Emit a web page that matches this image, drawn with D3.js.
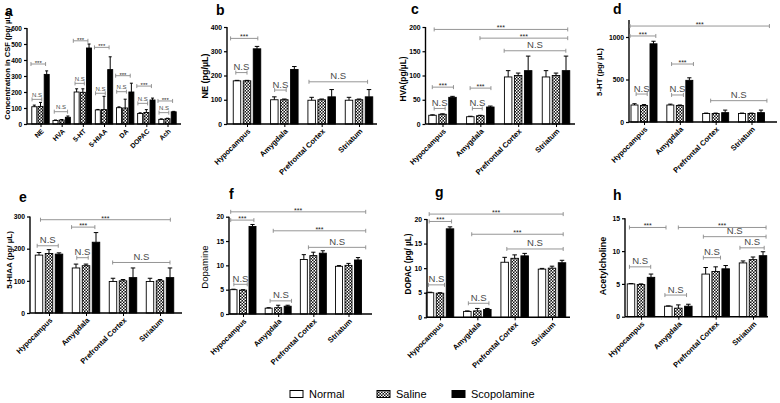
<!DOCTYPE html>
<html><head><meta charset="utf-8">
<script src="https://cdn.jsdelivr.net/npm/d3@7"></script>
<style>body{margin:0;background:#fff}svg{display:block;font-family:"Liberation Sans",Arial,sans-serif}</style>
</head><body><svg id="chart" width="780" height="403"></svg>
<script>
// ---------------- DATA ----------------
const seriesNames = ["Normal", "Saline", "Scopolamine"];
const csfCategories = ["NE", "HVA", "5-HT", "5-HIAA", "DA", "DOPAC", "Ach"];
const regions = ["Hypocampus", "Amygdala", "Prefrontal Cortex", "Striatum"];

// a: CSF
const csfNormal = [108, 22, 200, 88, 102, 66, 29];
const csfNormalErr = [10, 3, 20, 3, 5, 4, 3];
const csfSaline = [110, 25, 198, 90, 100, 72, 33];
const csfSalineErr = [25, 3, 22, 83, 55, 18, 3];
const csfScop = [310, 42, 475, 340, 200, 150, 76];
const csfScopErr = [22, 8, 25, 80, 55, 12, 3];
const csfTicks = [0, 100, 200, 300, 400, 500, 600];
const csfBrackets = [[-0.45,0.24,375,"***"],[-0.4,0.06,154,"N.S"],[0.65,1.28,77,"N.S"],
  [1.55,2.24,520,"***"],[1.63,2.07,254,"N.S"],[2.55,3.24,479,"***"],[2.6,3.06,192,"N.S"],
  [3.55,4.24,302,"***"],[3.6,4.06,202,"N.S"],[4.55,5.24,237,"***"],[4.6,5.06,129,"N.S"],
  [5.55,6.24,144,"***"],[5.6,6.06,71,"N.S"]];

// b: NE
const neNormal = [178, 100, 98, 98];   const neNormalErr = [2, 12, 12, 12];
const neSaline = [178, 100, 100, 100]; const neSalineErr = [2, 3, 3, 3];
const neScop = [310, 225, 112, 112];   const neScopErr = [10, 12, 30, 30];
const neTicks = [0, 100, 200, 300, 400];
const neBrackets = [[-0.44,0.29,353,"***"],[-0.3,0.0,212,"N.S"],[0.74,1.05,140,"N.S"],[1.66,3.23,174,"N.S"]];

// c: HVA
const hvaNormal = [18, 15, 97, 97];    const hvaNormalErr = [1, 1, 13, 13];
const hvaSaline = [20, 17, 100, 100];  const hvaSalineErr = [1, 1, 5, 5];
const hvaScop = [55, 35, 110, 110];    const hvaScopErr = [2, 2, 30, 30];
const hvaTicks = [0, 50, 100, 150, 200];
const hvaBrackets = [[-0.22,3.31,195,"***"],[0.99,3.31,177,"***"],[1.63,3.26,151,"N.S"],
  [-0.27,0.29,76,"***"],[-0.22,0.07,32,"N.S"],[0.73,1.28,74,"***"],[0.79,1.05,32,"N.S"]];

// d: 5-HT
const htNormal = [200, 200, 100, 100]; const htNormalErr = [15, 10, 5, 5];
const htSaline = [195, 195, 100, 100]; const htSalineErr = [10, 5, 5, 5];
const htScop = [920, 490, 110, 110];   const htScopErr = [30, 30, 30, 30];
const htTicks = [0, 500, 1000];
const htBrackets = [[-0.39,3.5,1129,"***"],[-0.39,0.33,1012,"***"],[0.77,1.38,682,"***"],
  [-0.22,0.09,329,"N.S"],[0.77,1.1,318,"N.S"],[1.86,3.43,251,"N.S"]];

// e: 5-HIAA
const hiaaNormal = [180, 140, 98, 98];   const hiaaNormalErr = [8, 12, 10, 10];
const hiaaSaline = [185, 147, 100, 100]; const hiaaSalineErr = [12, 5, 4, 4];
const hiaaScop = [183, 220, 110, 110];   const hiaaScopErr = [4, 30, 30, 30];
const hiaaTicks = [0, 100, 200, 300];
const hiaaBrackets = [[-0.23,3.28,290,"***"],[0.61,1.24,267,"***"],[-0.32,0.25,209,"N.S"],
  [0.75,1.06,172,"N.S"],[1.72,3.27,157,"N.S"]];

// f: Dopamine
const daNormal = [5.0, 1.2, 11.2, 9.8];  const daNormalErr = [0.1, 0.1, 1.0, 0.15];
const daSaline = [4.9, 1.3, 12.0, 10.0]; const daSalineErr = [0.1, 0.5, 0.7, 0.4];
const daScop = [18.0, 1.6, 12.5, 11.1];  const daScopErr = [0.4, 0.2, 0.5, 0.5];
const daTicks = [0, 5, 10, 15, 20];
const daBrackets = [[-0.35,3.49,21.0,"***"],[0.86,3.49,17.1,"***"],[-0.35,0.31,19.3,"***"],
  [1.86,3.49,13.7,"N.S"],[-0.26,0.12,6.1,"N.S"],[0.77,1.38,2.7,"N.S"]];

// g: DOPAC
const dopacNormal = [5.0, 1.2, 11.2, 9.8];  const dopacNormalErr = [0.1, 0.1, 1.0, 0.15];
const dopacSaline = [4.9, 1.3, 12.0, 10.0]; const dopacSalineErr = [0.1, 0.5, 0.7, 0.4];
const dopacScop = [18.0, 1.6, 12.5, 11.1];  const dopacScopErr = [0.4, 0.2, 0.5, 0.5];
const dopacTicks = [0, 5, 10, 15, 20];
const dopacBrackets = [[-0.29,3.3,21.0,"***"],[0.85,3.3,16.9,"***"],[-0.29,0.31,19.5,"***"],
  [1.79,3.3,13.9,"N.S"],[-0.31,0.12,6.6,"N.S"],[0.76,1.31,2.85,"N.S"]];

// h: Acetylcholine
const achNormal = [5.0, 1.6, 6.5, 8.2];  const achNormalErr = [0.05, 0.05, 1.0, 0.3];
const achSaline = [4.9, 1.3, 6.9, 8.7];  const achSalineErr = [0.1, 0.5, 0.7, 0.4];
const achScop = [6.0, 1.6, 7.3, 9.3];    const achScopErr = [0.5, 0.3, 0.5, 0.6];
const achTicks = [0, 5, 10, 15];
const achBrackets = [[-0.31,0.67,13.6,"***"],[1.0,3.35,13.6,"***"],[1.67,3.35,12.2,"N.S"],
  [2.65,3.3,10.5,"N.S"],[1.67,2.13,9.0,"N.S"],[-0.31,0.26,7.6,"N.S"],[0.64,1.22,3.3,"N.S"]];

// ---------------- LAYOUT ----------------
const panels = [
  {tag:"a", tagPos:[5,16], cats:csfCategories, means:[csfNormal,csfSaline,csfScop], errs:[csfNormalErr,csfSalineErr,csfScopErr],
   ticks:csfTicks, dom:[0,600], yr:[124,28], cx:[40.5,167.5], ax:[27,181], bs:6.2, bw:5, br:csfBrackets,
   ylab:"Concentration in CSF (pg/ µL)", ylabPos:[7,66], ylabSize:7.6, ylabW:"bold", xs:6.8, small:true},
  {tag:"b", tagPos:[216,15], cats:regions, means:[neNormal,neSaline,neScop], errs:[neNormalErr,neSalineErr,neScopErr],
   ticks:neTicks, dom:[0,400], yr:[124,27], cx:[247,359], ax:[227,377], bs:10, bw:7.5, br:neBrackets,
   ylab:"NE (pg/µL)", ylabPos:[205,76], ylabSize:9, ylabW:"bold", xs:7.5},
  {tag:"c", tagPos:[411,14], cats:regions, means:[hvaNormal,hvaSaline,hvaScop], errs:[hvaNormalErr,hvaSalineErr,hvaScopErr],
   ticks:hvaTicks, dom:[0,200], yr:[124,27], cx:[442.5,556], ax:[425.5,575], bs:10, bw:7.5, br:hvaBrackets,
   ylab:"HVA(pg/µL)", ylabPos:[403,79], ylabSize:8.4, ylabW:"bold", xs:7.5},
  {tag:"d", tagPos:[613,14], cats:regions, means:[htNormal,htSaline,htScop], errs:[htNormalErr,htSalineErr,htScopErr],
   ticks:htTicks, dom:[0,1200], yr:[122,20], cx:[644,751.5], ax:[629,777], bs:9.5, bw:7, br:htBrackets,
   ylab:"5-HT (pg/ µL)", ylabPos:[599,72], ylabSize:7.8, ylabW:"bold", xs:7.5},
  {tag:"e", tagPos:[19,202], cats:regions, means:[hiaaNormal,hiaaSaline,hiaaScop], errs:[hiaaNormalErr,hiaaSalineErr,hiaaScopErr],
   ticks:hiaaTicks, dom:[0,300], yr:[313,216.5], cx:[49,160], ax:[30,182], bs:10, bw:7.5, br:hiaaBrackets,
   ylab:"5-HIAA (pg/ µL)", ylabPos:[9,260], ylabSize:8, ylabW:"bold", xs:7.5},
  {tag:"f", tagPos:[229,199], cats:regions, means:[daNormal,daSaline,daScop], errs:[daNormalErr,daSalineErr,daScopErr],
   ticks:daTicks, dom:[0,20], yr:[314,216.7], cx:[243,348.5], ax:[229,372], bs:9.5, bw:7, br:daBrackets,
   ylab:"Dopamine", ylabPos:[205,267], ylabSize:9.5, ylabW:"normal", xs:7.5},
  {tag:"g", tagPos:[435,197], cats:regions, means:[dopacNormal,dopacSaline,dopacScop], errs:[dopacNormalErr,dopacSalineErr,dopacScopErr],
   ticks:dopacTicks, dom:[0,20], yr:[317.3,219], cx:[440,552], ax:[427,570], bs:10, bw:7.5, br:dopacBrackets,
   ylab:"DOPAC (pg/ µL)", ylabPos:[408,264], ylabSize:8.2, ylabW:"bold", xs:7.5},
  {tag:"h", tagPos:[613,200], cats:regions, means:[achNormal,achSaline,achScop], errs:[achNormalErr,achSalineErr,achScopErr],
   ticks:achTicks, dom:[0,15], yr:[316.7,218.3], cx:[641,753], ax:[625,768], bs:10, bw:7.5, br:achBrackets,
   ylab:"Acetylcholine", ylabPos:[603,266], ylabSize:9, ylabW:"bold", xs:7.5}
];

const svg = d3.select("#chart");
const defs = svg.append("defs");
const pat = defs.append("pattern").attr("id","checker").attr("patternUnits","userSpaceOnUse")
  .attr("width",3).attr("height",3);
pat.append("rect").attr("width",3).attr("height",3).attr("fill","#111");
pat.append("rect").attr("x",0).attr("y",0).attr("width",1.5).attr("height",1.5).attr("fill","#fff");
pat.append("rect").attr("x",1.5).attr("y",1.5).attr("width",1.5).attr("height",1.5).attr("fill","#fff");
const fills = ["#fff", "url(#checker)", "#000"];
const bracketColor = "#8a8a8a";

panels.forEach(p => {
  const g = svg.append("g");
  const n = p.cats.length;
  const gx = d3.scaleLinear().domain([0, n - 1]).range(p.cx);
  const y = d3.scaleLinear().domain(p.dom).range(p.yr);
  const yBot = p.yr[0];

  // bars
  p.means.forEach((arr, si) => {
    g.selectAll(null).data(arr).enter().append("rect")
      .attr("x", (d, i) => gx(i) + (si - 1) * p.bs - p.bw / 2)
      .attr("y", d => y(d))
      .attr("width", p.bw)
      .attr("height", d => yBot - y(d))
      .attr("fill", fills[si]).attr("stroke", "#000").attr("stroke-width", 0.9);
    const errs = p.errs[si];
    arr.forEach((d, i) => {
      const cx = gx(i) + (si - 1) * p.bs;
      const top = y(d + errs[i]);
      g.append("line").attr("x1", cx).attr("x2", cx).attr("y1", y(d)).attr("y2", top)
        .attr("stroke", "#000").attr("stroke-width", 1);
      g.append("line").attr("x1", cx - p.bw * 0.3).attr("x2", cx + p.bw * 0.3).attr("y1", top).attr("y2", top)
        .attr("stroke", "#000").attr("stroke-width", 1);
    });
  });

  // y axis
  const yAxis = d3.axisLeft(y).tickValues(p.ticks).tickSize(3).tickPadding(2).tickSizeOuter(0)
    .tickFormat(d3.format("d"));
  const ya = g.append("g").attr("transform", `translate(${p.ax[0]},0)`).call(yAxis);
  ya.select(".domain").attr("stroke-width", 1.4).attr("d", `M0,${yBot}V${p.yr[1]}`);
  ya.selectAll(".tick line").attr("stroke-width", 1.2);
  ya.selectAll("text").attr("font-size", p.small ? 6.5 : 6.8).attr("font-weight", "bold")
    .attr("font-family", '"Liberation Sans",Arial,sans-serif').attr("fill", "#000");

  // x axis
  const xAxis = d3.axisBottom(d3.scaleOrdinal().domain(p.cats).range(p.cats.map((c, i) => gx(i))))
    .tickSize(3).tickSizeOuter(0).tickFormat("");
  const xa = g.append("g").attr("transform", `translate(0,${yBot})`).call(xAxis);
  xa.select(".domain").attr("stroke-width", 1.4).attr("d", `M${p.ax[0]},0H${p.ax[1]}`);
  xa.selectAll(".tick line").attr("stroke-width", 1);
  g.selectAll(null).data(p.cats).enter().append("text")
    .attr("transform", (d, i) => `translate(${gx(i) + 2},${yBot + 6}) rotate(-45)`)
    .attr("text-anchor", "end").attr("dy", "0.35em")
    .attr("font-size", p.xs).attr("font-weight", "bold").text(d => d);

  // brackets
  p.br.forEach(b => {
    const x1 = gx(b[0]), x2 = gx(b[1]), yy = y(b[2]);
    const bg = g.append("g").attr("stroke", bracketColor).attr("stroke-width", 0.9);
    bg.append("line").attr("x1", x1).attr("x2", x2).attr("y1", yy).attr("y2", yy);
    bg.append("line").attr("x1", x1).attr("x2", x1).attr("y1", yy - 2).attr("y2", yy + 2);
    bg.append("line").attr("x1", x2).attr("x2", x2).attr("y1", yy - 2).attr("y2", yy + 2);
    const isStar = b[3] === "***";
    g.append("text").attr("x", (x1 + x2) / 2)
      .attr("y", isStar ? yy + 1 : yy - 2.5)
      .attr("text-anchor", "middle")
      .attr("font-size", isStar ? (p.small ? 6 : 7) : (p.small ? 6 : 9.5))
      .attr("fill", isStar ? "#222" : "#4a4a4a")
      .text(b[3]);
  });

  // y label
  g.append("text").attr("transform", `translate(${p.ylabPos[0]},${p.ylabPos[1]}) rotate(-90)`)
    .attr("text-anchor", "middle").attr("dy", "0.35em")
    .attr("font-size", p.ylabSize).attr("font-weight", p.ylabW).text(p.ylab);

  // panel tag
  svg.append("text").attr("x", p.tagPos[0]).attr("y", p.tagPos[1])
    .attr("font-size", 14).attr("font-weight", "bold").text(p.tag);
});

// legend
const legX = [290, 377, 452];
const leg = svg.append("g");
seriesNames.forEach((s, i) => {
  leg.append("rect").attr("x", legX[i]).attr("y", 390.5).attr("width", 13).attr("height", 7)
    .attr("fill", fills[i]).attr("stroke", "#000").attr("stroke-width", 1);
  leg.append("text").attr("x", legX[i] + 19).attr("y", 397.5)
    .attr("font-size", 11).text(s);
});
</script></body></html>
